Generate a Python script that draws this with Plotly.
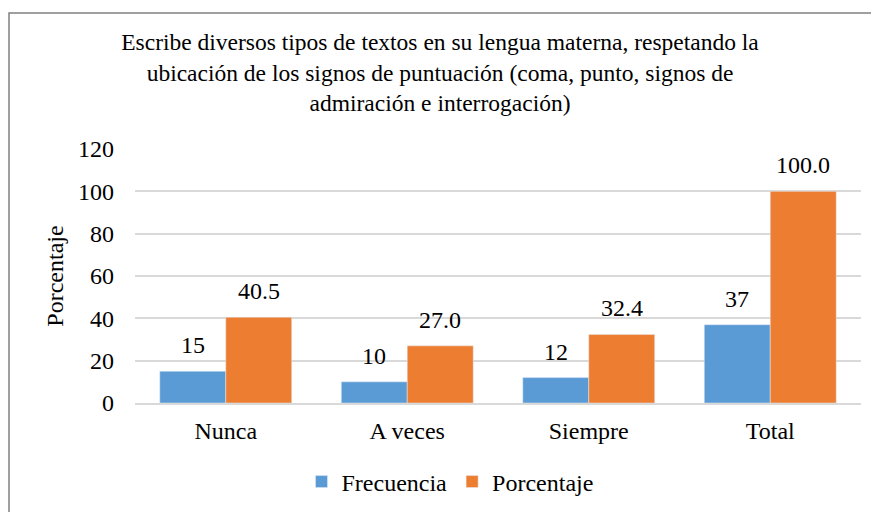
import plotly.graph_objects as go

categories = ["Nunca", "A veces", "Siempre", "Total"]
frecuencia = [15, 10, 12, 37]
porcentaje = [40.5, 27.0, 32.4, 100.0]

y_ticks = [0, 20, 40, 60, 80, 100, 120]

TITLE = (
    "Escribe diversos tipos de textos en su lengua materna, respetando la<br>"
    "ubicación de los signos de puntuación (coma, punto, signos de<br>"
    "admiración e interrogación)"
)

BLUE = "#5B9BD5"
ORANGE = "#ED7D31"
FONT = "Liberation Serif"
FS = 24

# the page body has an 8px margin, so the figure is 8px smaller than the window
W, H = 871, 504
L, R, T, B = 127, 18, 141, 109
plot_w = W - L - R
plot_h = H - T - B

fig = go.Figure()
fig.add_trace(go.Bar(name="Frecuencia", x=categories, y=frecuencia, marker_color=BLUE))
fig.add_trace(go.Bar(name="Porcentaje", x=categories, y=porcentaje, marker_color=ORANGE))

# data labels above each bar
for cat, f, p in zip(categories, frecuencia, porcentaje):
    fig.add_annotation(x=cat, y=f, text=f"{f}", xshift=-33, yshift=26,
                       yanchor="middle", showarrow=False,
                       font=dict(size=FS, color="#000000", family=FONT))
    fig.add_annotation(x=cat, y=p, text=f"{p:.1f}", xshift=33, yshift=26,
                       yanchor="middle", showarrow=False,
                       font=dict(size=FS, color="#000000", family=FONT))

# outer chart border
fig.add_shape(type="rect", xref="paper", yref="paper",
              x0=(1 - L) / plot_w, x1=1.2, y0=-0.6, y1=(T + plot_h - 5) / plot_h,
              line=dict(color="#808080", width=1.5), fillcolor="rgba(0,0,0,0)",
              layer="below")

fig.update_layout(
    width=W,
    height=H,
    barmode="group",
    bargap=0.273,
    bargroupgap=0,
    plot_bgcolor="white",
    paper_bgcolor="white",
    font=dict(family=FONT, size=FS, color="#000000"),
    margin=dict(l=L, r=R, t=T, b=B),
    title=dict(text=TITLE, x=432 / W, xref="container", xanchor="center",
               y=1 - 42 / H, yref="container", yanchor="middle",
               font=dict(size=23.5, family=FONT)),
    xaxis=dict(showgrid=False, showline=True, linecolor="#D9D9D9", linewidth=1.5,
               ticks="", ticklabelstandoff=5, tickfont=dict(size=FS, family=FONT)),
    yaxis=dict(range=[0, 120], tickvals=y_ticks, showgrid=True,
               gridcolor="#D9D9D9", gridwidth=1.5, zeroline=False,
               showline=False, ticks="", ticklabelstandoff=20,
               tickfont=dict(size=FS, family=FONT),
               title=dict(text="Porcentaje", font=dict(size=FS, family=FONT), standoff=7)),
    legend=dict(orientation="h", xref="container", x=442 / W, xanchor="center",
                yref="container", y=1 - 474 / H, yanchor="middle",
                font=dict(size=FS, family=FONT), itemwidth=30, tracegroupgap=0),
    showlegend=True,
)

fig.write_html("out.html")
